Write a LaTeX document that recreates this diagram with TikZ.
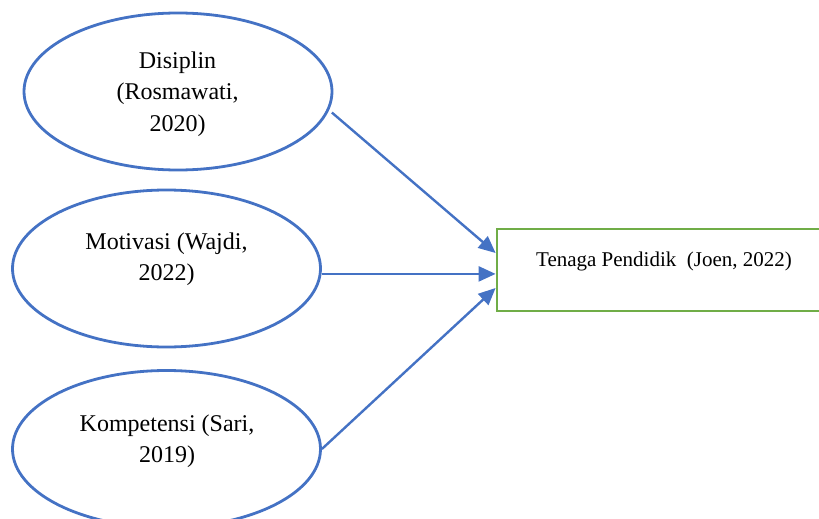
\documentclass[tikz,border=0pt]{standalone}
\usepackage{fontspec}
\setmainfont{Liberation Serif}
\usetikzlibrary{arrows.meta,calc,shapes.geometric}
\definecolor{eblue}{HTML}{4472C4}
\definecolor{egreen}{HTML}{70AD47}
\begin{document}
\begin{tikzpicture}[x=1pt,y=-1pt,
  oval/.style={ellipse,draw=eblue,line width=2.8pt,minimum width=308pt,minimum height=157pt,inner sep=0pt},
  boxnode/.style={rectangle,draw=egreen,line width=2.8pt,minimum width=328pt,minimum height=82pt,inner sep=0pt},
  otext/.style={align=center,font=\fontsize{24}{31.5}\selectfont,inner sep=0pt},
  btext/.style={font=\fontsize{21}{24}\selectfont,inner sep=0pt},
  conn/.style={draw=eblue,line width=2.4pt,-{Triangle[length=17pt,width=15pt]}}]
\useasboundingbox (0,0) rectangle (819,519);
\node[oval] (e1) at (178,91.5) {};
\node[oval] (e2) at (166.5,268.5) {};
\node[oval] (e3) at (166.5,449) {};
\node[otext] (t1) at (177.5,94) {Disiplin\\(Rosmawati,\\2020)};
\node[otext] (t2) at (166.5,259) {Motivasi (Wajdi,\\2022)};
\node[otext] (t3) at (167,441) {Kompetensi (Sari,\\2019)};
\node[boxnode] (box) at (661,270) {};
\node[btext] (bt) at (664,261) {Tenaga Pendidik\ \ (Joen, 2022)};
\coordinate (in1) at ($(box.west)+(0,-17)$);
\coordinate (in3) at ($(box.west)+(0,18)$);
\coordinate (s1) at ($(e1.-8)+(4,0)$);
\draw[conn] (s1) -- (in1);
\draw[conn] (e2.-2) -- (e2.-2 -| box.west);
\draw[conn] (e3.east) -- (in3);
\end{tikzpicture}
\end{document}
